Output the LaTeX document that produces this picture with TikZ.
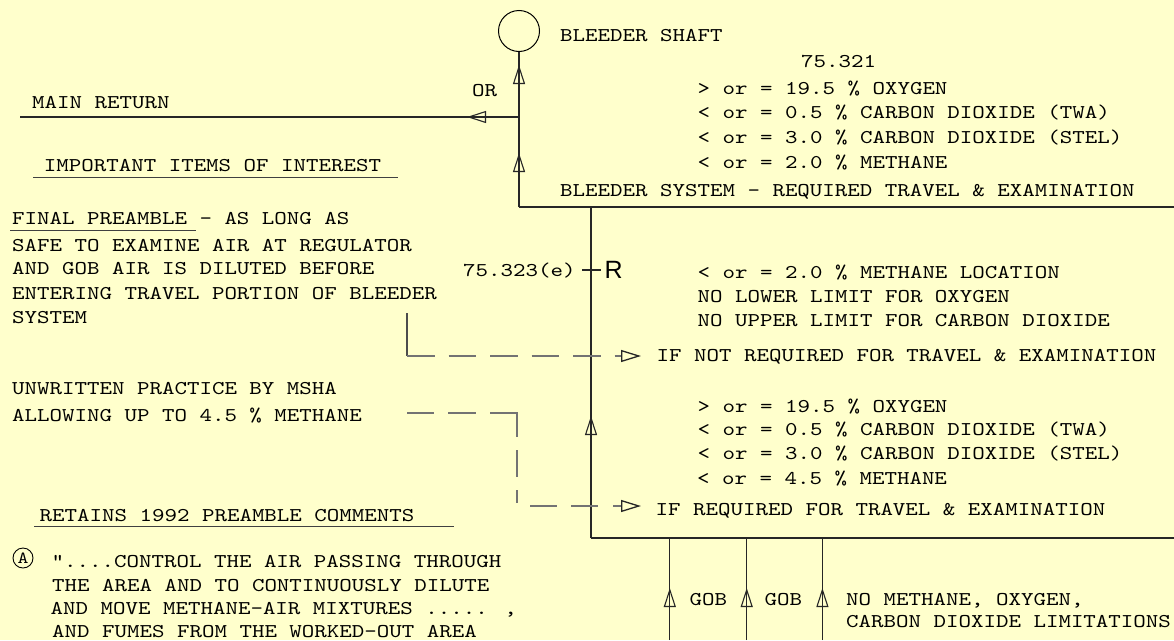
\documentclass[tikz,border=0pt]{standalone}
\usepackage{fontspec}
\newfontfamily\cour{lmmono10-regular.otf}[FakeStretch=1.22]
\newfontfamily\rfont{Liberation Sans}
\usetikzlibrary{arrows.meta,decorations.markings}
\definecolor{bg}{HTML}{FFFFCC}
\tikzset{
  txt/.style={anchor=base west, inner sep=0pt, font=\cour\fontsize{19.5}{24}\selectfont},
  ln/.style={line width=1.1pt, draw=black!85},
  arrowat/.style={postaction={decorate,decoration={markings,mark=at position #1 with {\arrow{Triangle[open,length=19pt,width=12pt]}}}}},
  dsh/.style={line width=1.3pt, draw=black!55, dash pattern=on 27.5pt off 14pt},
  ul/.style={line width=1pt, draw=black!75},
}
\begin{document}
\begin{tikzpicture}[x=1pt,y=-1pt]
\useasboundingbox (0,0) rectangle (1174,640);
\fill[bg] (0,0) rectangle (1174,640);

% bleeder shaft
\node[circle,draw,line width=1pt,minimum size=41pt,inner sep=0pt] (shaft) at (519,31) {};
\coordinate (c1) at (519,207);
\coordinate (tr) at (1174,207);
\coordinate (j) at (519,117);
\coordinate (mr) at (20,117);
\coordinate (b1) at (591,207);
\coordinate (b2) at (591,538);
\coordinate (br) at (1174,538);

\draw[ln, arrowat=54pt, arrowat=142pt] (c1) -- (shaft.south);
\draw[ln] (c1) -- (tr);
\draw[ln, arrowat=52pt] (j) -- (mr);
\draw[ln, arrowat=122pt] (b2) -- (b1);
\draw[ln] (b2) -- (br);

% gob lines
\coordinate (gb1) at (669.8,640); \coordinate (gt1) at (669.8,538);
\coordinate (gb2) at (746.7,640); \coordinate (gt2) at (746.7,538);
\coordinate (gb3) at (822.4,640); \coordinate (gt3) at (822.4,538);
\draw[ln, arrowat=52pt] (gb1) -- (gt1);
\draw[ln, arrowat=52pt] (gb2) -- (gt2);
\draw[ln, arrowat=52pt] (gb3) -- (gt3);

% regulator tick
\coordinate (tk1) at (582,270); \coordinate (tk2) at (601,270);
\draw[ln] (tk1) -- (tk2);
\node[anchor=base west, inner sep=0pt, font=\rfont\fontsize{25}{25}\selectfont] (R) at (604.5,278.5) {R};

% dashed leaders
\coordinate (d1a) at (407,313); \coordinate (d1b) at (407,356); \coordinate (d1c) at (641,356);
\draw[line width=1.1pt, draw=black!70] (d1a) -- (d1b);
\draw[dsh, -{Triangle[open,length=20pt,width=12pt,color=black!85]}] (d1b) -- (d1c);
\coordinate (d2a) at (407,413); \coordinate (d2b) at (517,413); \coordinate (d2c) at (517,506); \coordinate (d2d) at (641,506);
\draw[dsh, dash pattern=on 27pt off 14pt on 28pt off 14pt on 51pt off 13pt on 27pt off 13pt on 13pt off 16pt on 27pt off 14pt on 27pt off 15pt on 40pt off 40pt,
      -{Triangle[open,length=20pt,width=12pt,color=black!85]}] (d2a) -- (d2b) -- (d2c) -- (d2d);

% underlines
\coordinate (u1a) at (33,177); \coordinate (u1b) at (398,177); \draw[ul] (u1a) -- (u1b);
\coordinate (u2a) at (10,230); \coordinate (u2b) at (196,230); \draw[ul] (u2a) -- (u2b);
\coordinate (u3a) at (34,526); \coordinate (u3b) at (454,526); \draw[ul] (u3a) -- (u3b);

% circle A
\node[circle,draw,line width=0.9pt,minimum size=20pt,inner sep=0pt,font=\cour\fontsize{17}{17}\selectfont] (cA) at (23,558) {A};

% texts left
\node[txt] (tmain) at (32,108.5) {MAIN RETURN};
\node[txt] (tor) at (472,96) {OR};
\node[txt] (timp) at (43.7,171.5) {IMPORTANT ITEMS OF INTEREST};
\node[txt] (tf1) at (12,224.7) {FINAL PREAMBLE - AS LONG AS};
\node[txt] (tf2) at (12,251) {SAFE TO EXAMINE AIR AT REGULATOR};
\node[txt] (tf3) at (12,274.5) {AND GOB AIR IS DILUTED BEFORE};
\node[txt] (tf4) at (12,299) {ENTERING TRAVEL PORTION OF BLEEDER};
\node[txt] (tf5) at (12,323) {SYSTEM};
\node[txt] (tu1) at (12,394.5) {UNWRITTEN PRACTICE BY MSHA};
\node[txt] (tu2) at (12,421) {ALLOWING UP TO 4.5 \% METHANE};
\node[txt] (tret) at (39.5,521) {RETAINS 1992 PREAMBLE COMMENTS};
\node[txt] (tq1) at (51.5,567) {"....CONTROL THE AIR PASSING THROUGH};
\node[txt] (tq2) at (52,591) {THE AREA AND TO CONTINUOUSLY DILUTE};
\node[txt] (tq3) at (50.5,614) {AND MOVE METHANE-AIR MIXTURES ..... ,};
\node[txt] (tq4) at (52,637.5) {AND FUMES FROM THE WORKED-OUT AREA};

% texts right
\node[txt] (tshaft) at (560,41) {BLEEDER SHAFT};
\node[txt] (t321) at (801,67) {75.321};
\node[txt] (ta1) at (697.5,94) {> or = 19.5 \% OXYGEN};
\node[txt] (ta2) at (697.5,118.5) {< or = 0.5 \% CARBON DIOXIDE (TWA)};
\node[txt] (ta3) at (697.5,143.5) {< or = 3.0 \% CARBON DIOXIDE (STEL)};
\node[txt] (ta4) at (697.5,168) {< or = 2.0 \% METHANE};
\node[txt] (tbs) at (560,196.5) {BLEEDER SYSTEM - REQUIRED TRAVEL \& EXAMINATION};
\node[txt] (t323) at (463,276) {75.323(e)};
\node[txt] (tb1) at (697.5,278) {< or = 2.0 \% METHANE LOCATION};
\node[txt] (tb2) at (697.5,302.7) {NO LOWER LIMIT FOR OXYGEN};
\node[txt] (tb3) at (697.5,326) {NO UPPER LIMIT FOR CARBON DIOXIDE};
\node[txt] (tnot) at (656.5,361) {IF NOT REQUIRED FOR TRAVEL \& EXAMINATION};
\node[txt] (tc1) at (697.5,412.7) {> or = 19.5 \% OXYGEN};
\node[txt] (tc2) at (697.5,435.7) {< or = 0.5 \% CARBON DIOXIDE (TWA)};
\node[txt] (tc3) at (697.5,459.3) {< or = 3.0 \% CARBON DIOXIDE (STEL)};
\node[txt] (tc4) at (697,484.3) {< or = 4.5 \% METHANE};
\node[txt] (treq) at (655.5,515.3) {IF REQUIRED FOR TRAVEL \& EXAMINATION};
\node[txt] (tgob1) at (689.5,605) {GOB};
\node[txt] (tgob2) at (764.5,605) {GOB};
\node[txt] (tno1) at (846,605) {NO METHANE, OXYGEN,};
\node[txt] (tno2) at (846,627) {CARBON DIOXIDE LIMITATIONS};
\end{tikzpicture}
\end{document}
